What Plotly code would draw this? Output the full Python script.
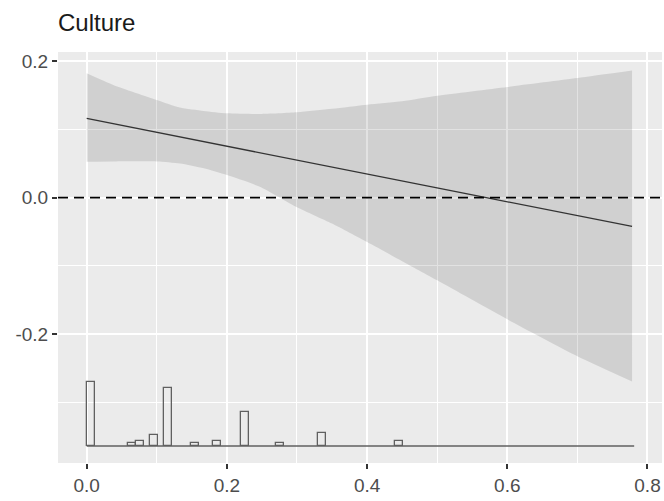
import plotly.graph_objects as go

# ---- data ----
title_text = "Culture"

# fitted line
line_x = [0.0, 0.2, 0.4, 0.57, 0.778]
line_y = [0.116, 0.075, 0.035, 0.0, -0.042]

# confidence band
band_x = [0.0, 0.038, 0.1, 0.133, 0.167, 0.2, 0.247, 0.3, 0.35, 0.4, 0.45, 0.5, 0.6, 0.7, 0.778]
band_upper = [0.182, 0.165, 0.143, 0.132, 0.127, 0.1235, 0.1225, 0.125, 0.130, 0.136, 0.141,
              0.149, 0.162, 0.175, 0.186]
band_lower = [0.0525, 0.053, 0.053, 0.050, 0.043, 0.033, 0.016, -0.014, -0.038, -0.065, -0.093,
              -0.121, -0.178, -0.232, -0.269]

# histogram of the moderator (bin centers and counts)
hist_centers = [0.0064, 0.0653, 0.076, 0.0962, 0.1159, 0.155, 0.1864, 0.226, 0.276, 0.336, 0.4458]
hist_counts = [24, 1, 2, 4, 22, 1, 2, 13, 1, 5, 2]
hist_base = -0.3635
hist_unit = 0.00388      # y units per count
hist_width = 0.0115
hist_extent = [0.0, 0.781]

x_ticks = [0.0, 0.2, 0.4, 0.6, 0.8]
x_ticktext = ["0.0", "0.2", "0.4", "0.6", "0.8"]
x_minor = [0.1, 0.3, 0.5, 0.7]
y_ticks = [-0.2, 0.0, 0.2]
y_ticktext = ["-0.2", "0.0", "0.2"]
y_minor = [-0.3, -0.1, 0.1]

x_range = [-0.0409, 0.8207]
y_range = [-0.3884, 0.2132]

fig = go.Figure()

# band
fig.add_trace(go.Scatter(x=band_x, y=band_lower, mode="lines",
                         line=dict(width=0, color="rgba(0,0,0,0)", shape="spline", smoothing=0.6),
                         hoverinfo="skip", showlegend=False))
fig.add_trace(go.Scatter(x=band_x, y=band_upper, mode="lines",
                         line=dict(width=0, color="rgba(0,0,0,0)", shape="spline", smoothing=0.6),
                         fill="tonexty", fillcolor="rgba(0,0,0,0.115)",
                         hoverinfo="skip", showlegend=False))

# histogram bars (outlined)
fig.add_trace(go.Bar(x=hist_centers, y=[c * hist_unit for c in hist_counts],
                     base=hist_base, width=hist_width,
                     marker=dict(color="rgba(0,0,0,0)",
                                 line=dict(color="#606060", width=1.3)),
                     showlegend=False))
# histogram baseline
fig.add_trace(go.Scatter(x=hist_extent, y=[hist_base, hist_base], mode="lines",
                         line=dict(color="#606060", width=1.3),
                         showlegend=False))

# fitted line
fig.add_trace(go.Scatter(x=line_x, y=line_y, mode="lines",
                         line=dict(color="#333333", width=1.3),
                         showlegend=False))

# dashed zero line
fig.add_shape(type="line", xref="paper", x0=0, x1=1, yref="y", y0=0, y1=0,
              line=dict(color="black", width=1.6, dash="10px,6px"))

axis_common = dict(
    showgrid=True, gridcolor="white", gridwidth=2,
    zeroline=False, showline=False,
    ticks="outside", ticklen=5, tickwidth=1.5, tickcolor="#333333",
    tickfont=dict(family="Liberation Sans, Arial, sans-serif", size=19, color="#4d4d4d"),
)

fig.update_layout(
    width=664, height=501,
    margin=dict(l=58, r=2, t=52, b=38),
    paper_bgcolor="white",
    plot_bgcolor="#ebebeb",
    bargap=0,
    title=dict(text=title_text, x=0, xref="paper", xanchor="left",
               y=1 - 23 / 501, yref="container", yanchor="middle",
               font=dict(family="Liberation Sans, Arial, sans-serif", size=24, color="#1a1a1a")),
    xaxis=dict(range=x_range, tickvals=x_ticks, ticktext=x_ticktext,
               minor=dict(tickvals=x_minor, showgrid=True, gridcolor="white", gridwidth=1, ticklen=0),
               **axis_common),
    yaxis=dict(range=y_range, tickvals=y_ticks, ticktext=y_ticktext,
               minor=dict(tickvals=y_minor, showgrid=True, gridcolor="white", gridwidth=1, ticklen=0),
               **axis_common),
)

fig.write_html("out.html")
